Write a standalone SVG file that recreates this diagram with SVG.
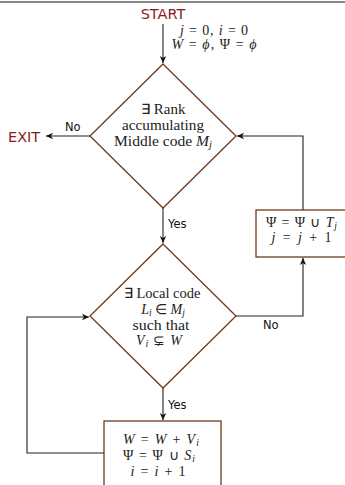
<svg xmlns="http://www.w3.org/2000/svg" width="345" height="485" viewBox="0 0 345 485">
<style>
.lbl{font-family:"DejaVu Sans",sans-serif;font-size:11.5px;fill:#111}
.term{font-family:"DejaVu Sans",sans-serif;font-size:14.5px;fill:#8b1a1a}
.m{font-family:"Liberation Serif","Times New Roman",serif;font-size:14px;fill:#222;text-anchor:middle}
.i{font-style:italic}
.s{font-size:9.5px;font-style:italic}
.shape{fill:#fff;stroke:#6e3b1b;stroke-width:1.3}
.con{fill:none;stroke:#222;stroke-width:1.1}
</style>
<defs>
<marker id="ah" markerWidth="8" markerHeight="8" refX="7" refY="4" orient="auto" markerUnits="userSpaceOnUse">
<path d="M0,0.8 L7,4 L0,7.2 L2,4 Z" fill="#111"/>
</marker>
</defs>
<line x1="0" y1="2" x2="345" y2="2" stroke="#111" stroke-width="1.2"/>
<g id="start"><text class="term" x="163" y="19" text-anchor="middle">START</text></g>
<g id="init">
<text class="m" x="214" y="35" textLength="68" lengthAdjust="spacing"><tspan class="i">j</tspan> = 0, <tspan class="i">i</tspan> = 0</text>
<text class="m" x="214" y="49" textLength="85" lengthAdjust="spacing"><tspan class="i">W</tspan> = <tspan class="i">ϕ</tspan>, Ψ = <tspan class="i">ϕ</tspan></text>
</g>
<g id="exit"><text class="term" x="8" y="142">EXIT</text></g>
<g id="decision1">
<polygon class="shape" points="163,64 236,136 163,208 90,136"/>
<text class="m" x="163" y="114" textLength="45" lengthAdjust="spacingAndGlyphs">∃ Rank</text>
<text class="m" x="163" y="130" textLength="82" lengthAdjust="spacingAndGlyphs">accumulating</text>
<text class="m" x="163" y="146" textLength="98" lengthAdjust="spacingAndGlyphs">Middle code <tspan class="i">M</tspan><tspan class="s" dy="2">j</tspan></text>
</g>
<g id="update-psi">
<rect class="shape" x="256" y="210" width="92" height="47"/>
<text class="m" x="301.5" y="227" textLength="71" lengthAdjust="spacing">Ψ = Ψ ∪ <tspan class="i">T</tspan><tspan class="s" dy="2">j</tspan></text>
<text class="m" x="301.5" y="242" textLength="60" lengthAdjust="spacing"><tspan class="i">j</tspan> = <tspan class="i">j</tspan> + 1</text>
</g>
<g id="decision2">
<polygon class="shape" points="163,244 236,316 163,388 90,316"/>
<text class="m" x="162" y="298" textLength="77" lengthAdjust="spacingAndGlyphs">∃ Local code</text>
<text class="m" x="163" y="314"><tspan class="i">L</tspan><tspan class="s" dy="2">i</tspan><tspan dy="-2"> ∈ </tspan><tspan class="i">M</tspan><tspan class="s" dy="2">j</tspan></text>
<text class="m" x="161" y="330" textLength="57" lengthAdjust="spacingAndGlyphs">such that</text>
<text class="m" x="159" y="345" textLength="46" lengthAdjust="spacing"><tspan class="i">V</tspan><tspan class="s" dy="2">i</tspan><tspan dy="-2"> ⊊ </tspan><tspan class="i">W</tspan></text>
</g>
<g id="update-w">
<rect class="shape" x="104" y="421" width="117" height="70"/>
<text class="m" x="161" y="444" textLength="76" lengthAdjust="spacing"><tspan class="i">W</tspan> = <tspan class="i">W</tspan> + <tspan class="i">V</tspan><tspan class="s" dy="2">i</tspan></text>
<text class="m" x="159" y="460" textLength="72" lengthAdjust="spacing">Ψ = Ψ ∪ <tspan class="i">S</tspan><tspan class="s" dy="2">i</tspan></text>
<text class="m" x="158" y="476" textLength="55" lengthAdjust="spacing"><tspan class="i">i</tspan> = <tspan class="i">i</tspan> + 1</text>
</g>
<g id="connectors">
<line class="con" x1="163" y1="24" x2="163" y2="63" marker-end="url(#ah)"/>
<line class="con" x1="90" y1="136" x2="46" y2="136" marker-end="url(#ah)"/>
<line class="con" x1="163" y1="208" x2="163" y2="243" marker-end="url(#ah)"/>
<polyline class="con" points="303,210 303,136 237,136" marker-end="url(#ah)"/>
<polyline class="con" points="236,316 303,316 303,258" marker-end="url(#ah)"/>
<line class="con" x1="163" y1="388" x2="163" y2="420" marker-end="url(#ah)"/>
<polyline class="con" points="104,453 27,453 27,317 89,317" marker-end="url(#ah)"/>
<text class="lbl" x="65" y="131">No</text>
<text class="lbl" x="168" y="228">Yes</text>
<text class="lbl" x="263" y="329">No</text>
<text class="lbl" x="168" y="409">Yes</text>
</g>
</svg>
